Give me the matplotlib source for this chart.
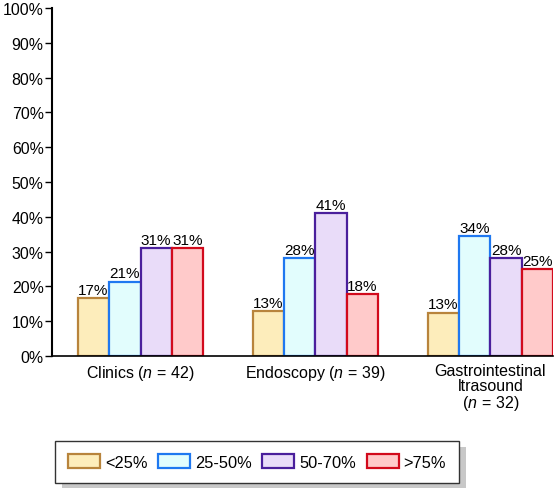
import matplotlib
matplotlib.use("Agg")
import matplotlib.pyplot as plt
from matplotlib.patches import Rectangle
import numpy as np

plt.rcParams['font.family'] = ['Liberation Sans', 'DejaVu Sans']
plt.rcParams['mathtext.fontset'] = 'custom'
plt.rcParams['mathtext.rm'] = 'Liberation Sans'
plt.rcParams['mathtext.it'] = 'Liberation Sans:italic'

# data
groups = [r'Clinics ($n\,=\,$42)', r'Endoscopy ($n\,=\,$39)',
          'Gastrointestinal\nltrasound\n' + r'($n\,=\,$32)']
series = ['<25%', '25-50%', '50-70%', '>75%']
values = [
    [16.7, 12.8, 12.5],   # <25%
    [21.4, 28.2, 34.4],   # 25-50%
    [31.0, 41.0, 28.1],   # 50-70%
    [31.0, 17.9, 25.0],   # >75%
]
labels = [
    ['17%', '13%', '13%'],
    ['21%', '28%', '34%'],
    ['31%', '41%', '28%'],
    ['31%', '18%', '25%'],
]
fills = ['#fdedbb', '#e2fdfd', '#e9dcf9', '#ffcaca']
edges = ['#b8843c', '#1f78f0', '#4a1f9c', '#d20a1c']

fig = plt.figure(figsize=(5.56, 4.89), dpi=100)
ax = fig.add_axes([52/556, 1 - 357/489, 501/556, 348/489])

x = np.arange(len(groups))
w = 0.179
for i in range(len(series)):
    pos = x + (i - 1.5) * w
    bars = ax.bar(pos, values[i], width=w, color=fills[i], edgecolor=edges[i],
                  linewidth=1.6, label=series[i], zorder=2)
    for b, lab in zip(bars, labels[i]):
        ax.text(b.get_x() + b.get_width() / 2, b.get_height() + 0.3, lab,
                ha='center', va='bottom', fontsize=11)

ax.set_xlim(-0.506, 2 + 2 * w)
ax.set_ylim(0, 100)
ax.set_yticks(np.arange(0, 101, 10))
ax.set_yticklabels([f'{v}%' for v in range(0, 101, 10)], fontsize=11.4)
ax.set_xticks(x)
ax.set_xticklabels(groups, fontsize=11.5, linespacing=1.0)
ax.tick_params(axis='x', length=0, pad=5)
ax.tick_params(axis='y', length=5, width=1, pad=1)
ax.spines['top'].set_visible(False)
ax.spines['right'].set_visible(False)
ax.spines['left'].set_linewidth(1.5)
ax.spines['bottom'].set_linewidth(1.2)

leg = fig.legend(loc='upper left', bbox_to_anchor=(55/556, 1 - 442/489),
                 ncol=4, fontsize=11.8, frameon=True, fancybox=False,
                 edgecolor='#333333', framealpha=1, handlelength=1.95,
                 handleheight=0.9, columnspacing=0.65, handletextpad=0.3,
                 borderpad=0.8, borderaxespad=0)
leg.get_frame().set_linewidth(1.0)
leg.set_zorder(5)

fig.canvas.draw()
bb = leg.get_window_extent()
shadow = Rectangle(((bb.x0 + 7) / 556, (bb.y0 - 6) / 489),
                   bb.width / 556, bb.height / 489,
                   transform=fig.transFigure, facecolor='#c8c8c8',
                   edgecolor='none', zorder=1)
fig.patches.append(shadow)

fig.savefig('out.png', dpi=100)
